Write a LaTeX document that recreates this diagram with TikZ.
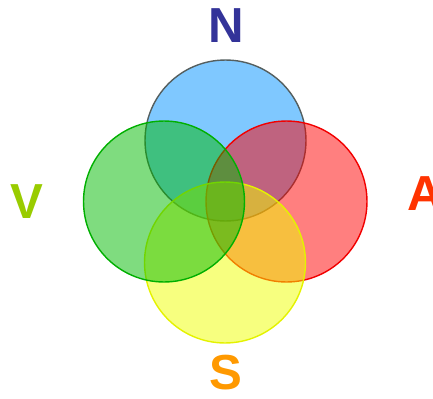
\documentclass[tikz,border=0pt]{standalone}
\usepackage{fontspec}
\setmainfont{Liberation Sans}
\usepackage{tikz}
\usetikzlibrary{positioning}

\definecolor{nblue}{RGB}{0,145,255}
\definecolor{vgreen}{RGB}{0,185,0}
\definecolor{ared}{RGB}{255,0,0}
\definecolor{syellow}{RGB}{240,255,0}
\definecolor{ntext}{RGB}{51,51,153}
\definecolor{vtext}{RGB}{153,204,0}
\definecolor{atext}{RGB}{255,51,0}
\definecolor{stext}{RGB}{255,153,0}

\begin{document}
\begin{tikzpicture}[x=0.02cm, y=-0.02cm,
		set/.style={circle, minimum size=3.22cm, inner sep=0pt, line width=0.8pt, fill opacity=0.5},
		letter/.style={font=\fontsize{28}{30}\selectfont\bfseries}]

		% === page bounds ===
		\useasboundingbox (0,0) rectangle (433,399);

		% === Sets (back to front) ===
		\node[set, draw={rgb,255:red,85;green,95;blue,95}, fill=nblue]	(nset) at (225.5,140.5) {};
		\node[set, draw=ared!95!black, fill=ared]		(aset) at (286.5,201.5) {};
		\node[set, draw=syellow!95!black, fill=syellow]	(sset) at (225,262.5) {};
		\node[set, draw=vgreen!95!black, fill=vgreen]	(vset) at (164,201.5) {};

		% === Letters ===
		\node[letter, text=ntext] (nlab) at (226,26) {N};
		\node[letter, text=vtext] (vlab) at (27,202) {V};
		\node[letter, text=atext] (alab) at (425,194) {A};
		\node[letter, text=stext] (slab) at (226,373) {S};
	\end{tikzpicture}
\end{document}
